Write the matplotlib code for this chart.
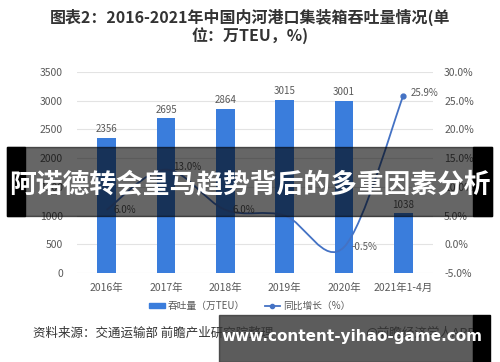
import numpy as np
import matplotlib
matplotlib.use("Agg")
import matplotlib.pyplot as plt
from matplotlib.path import Path
from matplotlib.patches import PathPatch, Rectangle
from matplotlib.lines import Line2D

plt.rcParams['font.family'] = ['Noto Sans CJK SC', 'DejaVu Sans']

# data
years = ["2016年", "2017年", "2018年", "2019年", "2020年", "2021年1-4月"]
throughput = [2356, 2695, 2864, 3015, 3001, 1038]      # 万TEU
growth = [6.0, 13.0, 6.0, 5.0, -0.5, 25.9]             # %
growth_labels = ["6.0%", "13.0%", "6.0%", "", "-0.5%", "25.9%"]

bar_color = "#3a7ddc"
line_color = "#4472c4"
tick_color = "#595959"

fig = plt.figure(figsize=(5, 3.62), dpi=100)
ax = fig.add_axes([0.154, 0.246, 0.712, 0.555])
ax2 = ax.twinx()

x = np.arange(len(years))
ax.bar(x, throughput, width=0.31, color=bar_color, zorder=2)
for xi, v in zip(x, throughput):
    ax.text(xi, v + 60, str(v), ha="center", va="bottom", fontsize=7, color=tick_color)

ax.set_xlim(-0.5, len(years) - 0.5)
ax.set_ylim(0, 3500)
ax.set_yticks(np.arange(0, 3501, 500))
ax.grid(axis="y", color="#e3e3e3", lw=0.8, zorder=0)
ax.set_axisbelow(True)
ax.set_xticks(x)
ax.set_xticklabels(years)
for a in (ax, ax2):
    for s in a.spines.values():
        s.set_visible(False)
    a.tick_params(length=0, labelsize=7.5, colors=tick_color)
ax.tick_params(axis="y", pad=10)
ax.tick_params(axis="x", pad=7)

ax2.set_ylim(-5, 30)
ax2.set_yticks(np.arange(-5, 31, 5))
ax2.set_yticklabels(["%.1f%%" % t for t in np.arange(-5, 31, 5)])
ax2.tick_params(axis="y", pad=8)

# smoothed line (catmull-rom as cubic beziers)
pts = list(zip(x.astype(float), growth))
verts = [pts[0]]
codes = [Path.MOVETO]
for i in range(len(pts) - 1):
    p0 = pts[max(i - 1, 0)]
    p1 = pts[i]
    p2 = pts[i + 1]
    p3 = pts[min(i + 2, len(pts) - 1)]
    c1 = (p1[0] + (p2[0] - p0[0]) / 6, p1[1] + (p2[1] - p0[1]) / 6)
    c2 = (p2[0] - (p3[0] - p1[0]) / 6, p2[1] - (p3[1] - p1[1]) / 6)
    verts += [c1, c2, p2]
    codes += [Path.CURVE4] * 3
ax2.add_patch(PathPatch(Path(verts, codes), fill=False, edgecolor=line_color, lw=1.3, zorder=3))
ax2.plot(x[-1], growth[-1], "o", ms=3.5, color=line_color, zorder=4)
for xi, v, lab in zip(x, growth, growth_labels):
    if lab:
        ax2.text(xi + 0.12, v + (0.4 if v > 10 else 0), lab, ha="left", va="center",
                 fontsize=7, color=tick_color)

# title
fig.text(0.5, 0.953, "图表2：2016-2021年中国内河港口集装箱吞吐量情况(单", ha="center", va="center",
         fontsize=11.5, fontweight="bold", color="#333333")
fig.text(0.5, 0.903, "位：万TEU，%)", ha="center", va="center",
         fontsize=11.5, fontweight="bold", color="#333333")

# legend
handles = [Rectangle((0, 0), 1, 1, color=bar_color),
           Line2D([0], [0], color=line_color, lw=1.3, marker="o", ms=3)]
fig.legend(handles, ["吞吐量（万TEU）", "同比增长（%）"], loc="center", bbox_to_anchor=(0.5, 0.155),
           ncol=2, frameon=False, fontsize=7, labelcolor=tick_color, handlelength=1.6,
           handleheight=0.5, columnspacing=2.0, handletextpad=0.3)

# source line
fig.text(0.066, 0.08, "资料来源：交通运输部 前瞻产业研究院整理", ha="left", va="center",
         fontsize=9, color="#333333")
fig.text(0.95, 0.08, "@前瞻经济学人APP", ha="right", va="center", fontsize=9, color="#333333")

# overlay banner
fig.patches.append(Rectangle((7 / 500, 1 - 216 / 362), 485 / 500, 69 / 362,
                             transform=fig.transFigure, color="black", alpha=0.6, zorder=10))
fig.patches.append(Rectangle((7 / 500, 1 - 216 / 362), 18 / 500, 69 / 362,
                             transform=fig.transFigure, color="black", zorder=11))
fig.patches.append(Rectangle((473 / 500, 1 - 216 / 362), 19 / 500, 69 / 362,
                             transform=fig.transFigure, color="black", zorder=11))
fig.text(0.5, 1 - 185 / 362, "阿诺德转会皇马趋势背后的多重因素分析", ha="center", va="center",
         fontsize=19.3, fontweight="bold", color="white", zorder=12)

# bottom watermark
fig.patches.append(Rectangle((219 / 500, 0), 254 / 500, 47 / 362,
                             transform=fig.transFigure, color="#333333", alpha=0.8, zorder=10))
fig.patches.append(Rectangle((473 / 500, 0), 17 / 500, 47 / 362,
                             transform=fig.transFigure, color="black", zorder=11))
fig.text(352 / 500, 1 - 337 / 362, "www.content-yihao-game.com", ha="center", va="center",
         fontsize=11, fontweight="bold", color="white", zorder=12, family="DejaVu Sans")

fig.savefig("out.png", dpi=100)
